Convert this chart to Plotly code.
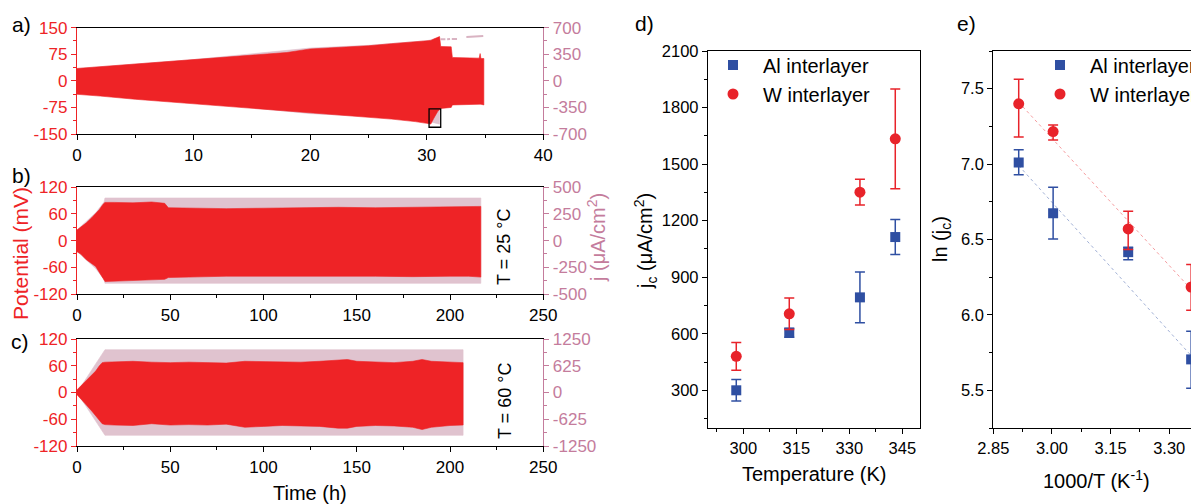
import plotly.graph_objects as go

FONT = "Liberation Sans, Arial, Helvetica, sans-serif"
RED = "#ee2326"
JCOL = "#c47c9c"
BAND = "#e0c3cf"
BLUE = "#2f4fa2"
PRED = "#e8232a"
W, H = 1199, 504
OFF = 8  # page offset of the figure inside the browser window

# ---------------- panel a : envelopes of the oscillating signals ----------------
a_t = [0, 2, 5, 8, 10, 12, 15, 18, 20, 22, 25, 27, 29, 30, 30.35, 30.6, 30.95, 31.1, 31.2, 32.1, 32.2, 34.5, 34.58, 34.65, 34.9]
a_pot_hi = [35, 40, 47, 55, 60, 64, 71, 80, 90, 93, 99, 105, 110, 113, 114, 118, 122, 125, 97, 96, 66, 64, 77, 63, 63]
a_pot_lo = [-38, -43, -52, -60, -65, -70, -78, -86, -91, -95, -103, -108, -115, -120, -122, -106, -86, -82, -78, -75, -68, -66, -67, -66, -68]
a_j_t = [0, 10, 20, 25, 30, 31.1]
a_j_val = [160, 280, 432, 468, 528, 570]
a_jseg_t = [31.2, 31.6, None, 31.75, 32.0, None, 32.15, 32.6, None, 33.4, 34.85]
a_jseg_v = [548, 548, None, 548, 550, None, 552, 552, None, 578, 590]
a_box_t = [30.2, 31.2]
a_box_pot = [-131, -79]

# ---------------- panel b : T = 25 °C ----------------
b_t = [0, 2, 5, 8, 10, 12, 14, 15, 20, 30, 40, 47, 49, 60, 80, 100, 120, 140, 160, 180, 200, 210, 216.5]
b_pot_hi = [24, 30, 40, 52, 60, 70, 82, 86, 86, 85, 87, 84, 74, 73, 72, 73, 74, 75, 74, 75, 76, 77, 77]
b_pot_lo = [-25, -30, -43, -52, -58, -70, -85, -92, -91, -89, -88, -87, -83, -82, -80, -81, -81, -80, -80, -81, -80, -80, -82]
b_j_t = [0, 5, 10, 14.5, 15, 216.5]
b_j_val = [100, 178, 262, 362, 400, 400]

# ---------------- panel c : T = 60 °C ----------------
c_t = [0, 2, 5, 8, 10, 12, 13.5, 15, 20, 30, 40, 50, 60, 70, 80, 90, 100, 110, 120, 130, 140, 145, 150, 160, 170, 180, 185, 190, 200, 207]
c_pot_hi = [6, 14, 27, 40, 48, 60, 67, 68, 69, 70, 68, 67, 68, 67, 66, 70, 69, 68, 68, 70, 72, 74, 70, 68, 67, 70, 74, 70, 68, 67]
c_pot_lo = [-5, -13, -28, -42, -50, -62, -70, -72, -73, -74, -70, -73, -72, -73, -71, -78, -76, -74, -75, -76, -80, -80, -76, -74, -75, -78, -83, -78, -74, -73]
c_j_t = [0, 15, 207]
c_j_val = [0, 1000, 1000]

# ---------------- panel d ----------------
d_T = [298, 313, 333, 343]
d_al = [300, 605, 793, 1113]
d_al_err = [57, 24, 134, 93]
d_w = [480, 706, 1351, 1634]
d_w_err = [73, 84, 68, 265]

# ---------------- panel e ----------------
e_x = [2.915, 3.003, 3.195, 3.356]
e_al = [7.011, 6.674, 6.416, 5.705]
e_al_up = [0.084, 0.172, 0.033, 0.187]
e_al_dn = [0.081, 0.170, 0.050, 0.192]
e_w = [7.40, 7.216, 6.570, 6.185]
e_w_up = [0.162, 0.044, 0.117, 0.150]
e_w_dn = [0.220, 0.057, 0.136, 0.154]
e_fit_x = [2.915, 3.356]
e_fit_al = [6.99, 5.73]
e_fit_w = [7.41, 6.17]

# tick labels
a_pot_ticks = [-150, -75, 0, 75, 150]
a_j_ticks = [-700, -350, 0, 350, 700]
b_pot_ticks = [-120, -60, 0, 60, 120]
b_j_ticks = [-500, -250, 0, 250, 500]
c_pot_ticks = [-120, -60, 0, 60, 120]
c_j_ticks = [-1250, -625, 0, 625, 1250]


def px(x):
    return (x - OFF) / W


def py(y):
    return 1 - (y - OFF) / H


def band(t, hi, lo):
    return list(t) + list(t)[::-1], list(hi) + list(lo)[::-1]


fig = go.Figure()


def add_band(t, hi, lo, xa, ya, color):
    bx, by = band(t, hi, lo)
    fig.add_trace(go.Scatter(x=bx, y=by, xaxis=xa, yaxis=ya, mode="lines", fill="toself",
                             fillcolor=color, line=dict(width=0.6, color=color),
                             showlegend=False, hoverinfo="skip"))


# current bands (base axes, drawn underneath) and potential bands (overlaying axes)
add_band(a_j_t, a_j_val, [-v for v in a_j_val], "x", "y", BAND)
fig.add_trace(go.Scatter(x=a_jseg_t, y=a_jseg_v, xaxis="x", yaxis="y", mode="lines",
                         line=dict(width=2, color="#d9b3c2"), showlegend=False, hoverinfo="skip"))
add_band(a_t, a_pot_hi, a_pot_lo, "x", "y2", RED)

add_band(b_j_t, b_j_val, [-v for v in b_j_val], "x2", "y3", BAND)
add_band(b_t, b_pot_hi, b_pot_lo, "x2", "y4", RED)

add_band(c_j_t, c_j_val, [-v for v in c_j_val], "x3", "y5", BAND)
add_band(c_t, c_pot_hi, c_pot_lo, "x3", "y6", RED)

# panel d
fig.add_trace(go.Scatter(x=d_T, y=d_al, xaxis="x4", yaxis="y7", mode="markers", name="Al interlayer",
                         marker=dict(symbol="square", size=10, color=BLUE),
                         error_y=dict(type="data", array=d_al_err, color=BLUE, thickness=1.5, width=5),
                         legend="legend"))
fig.add_trace(go.Scatter(x=d_T, y=d_w, xaxis="x4", yaxis="y7", mode="markers", name="W interlayer",
                         marker=dict(symbol="circle", size=11, color=PRED),
                         error_y=dict(type="data", array=d_w_err, color=PRED, thickness=1.5, width=5),
                         legend="legend"))

# panel e
fig.add_trace(go.Scatter(x=e_fit_x, y=e_fit_w, xaxis="x5", yaxis="y8", mode="lines",
                         line=dict(color="rgba(232,35,42,0.45)", width=1, dash="dot"),
                         showlegend=False, hoverinfo="skip"))
fig.add_trace(go.Scatter(x=e_fit_x, y=e_fit_al, xaxis="x5", yaxis="y8", mode="lines",
                         line=dict(color="rgba(47,79,162,0.45)", width=1, dash="dot"),
                         showlegend=False, hoverinfo="skip"))
fig.add_trace(go.Scatter(x=e_x, y=e_al, xaxis="x5", yaxis="y8", mode="markers", name="Al interlayer",
                         marker=dict(symbol="square", size=10, color=BLUE),
                         error_y=dict(type="data", symmetric=False, array=e_al_up, arrayminus=e_al_dn,
                                      color=BLUE, thickness=1.5, width=5),
                         legend="legend2"))
fig.add_trace(go.Scatter(x=e_x, y=e_w, xaxis="x5", yaxis="y8", mode="markers", name="W interlayer",
                         marker=dict(symbol="circle", size=11, color=PRED),
                         error_y=dict(type="data", symmetric=False, array=e_w_up, arrayminus=e_w_dn,
                                      color=PRED, thickness=1.5, width=5),
                         legend="legend2"))

LW = 1.3
TICKF = dict(family=FONT, size=17, color="black")


def time_axis(dom, rng, dtick, anchor):
    return dict(domain=dom, range=rng, anchor=anchor, showline=True, linecolor="black", linewidth=LW,
                mirror=True, ticks="outside", ticklen=5, tickwidth=1.2, tickcolor="black",
                tickfont=TICKF, tick0=0, dtick=dtick, automargin=False,
                minor=dict(dtick=dtick / 2, tick0=0, ticks="outside", ticklen=3, tickwidth=1.2, tickcolor="black"),
                showgrid=False, zeroline=False)


def lab(v):
    return ["%g" % x for x in v]


def pot_axis(rng, ticks, overlay, anchor):
    step = ticks[1] - ticks[0]
    return dict(range=rng, overlaying=overlay, side="left", anchor=anchor, showline=True, linecolor=RED,
                linewidth=LW, ticks="outside", ticklen=5, tickwidth=1.2, tickcolor=RED, automargin=False,
                tickfont=dict(family=FONT, size=17, color=RED), tickmode="array", tickvals=ticks,
                ticktext=lab(ticks),
                minor=dict(tick0=0, dtick=step / 2, ticks="outside", ticklen=3, tickwidth=1.2, tickcolor=RED),
                showgrid=False, zeroline=False)


def j_axis(dom, rng, ticks, anchor):
    step = ticks[1] - ticks[0]
    return dict(domain=dom, range=rng, side="right", anchor=anchor, showline=True, linecolor=JCOL,
                linewidth=LW, ticks="outside", ticklen=5, tickwidth=1.2, tickcolor=JCOL, automargin=False,
                tickfont=dict(family=FONT, size=17, color=JCOL), tickmode="array", tickvals=ticks,
                ticktext=lab(ticks),
                minor=dict(tick0=0, dtick=step / 2, ticks="outside", ticklen=3, tickwidth=1.2, tickcolor=JCOL),
                showgrid=False, zeroline=False)


def plain_axis(**kw):
    base = dict(showline=True, linecolor="black", linewidth=LW, ticks="outside", ticklen=5, tickwidth=1.2,
                tickcolor="black", tickfont=dict(family=FONT, size=16.5, color="black"), automargin=False,
                showgrid=False, zeroline=False)
    base.update(kw)
    return base


def minor(t0, dt):
    return dict(tick0=t0, dtick=dt, ticks="outside", ticklen=3, tickwidth=1.2, tickcolor="black")


XL, XR = 77, 543.3
xdom = [px(XL), px(XR)]
dom_a = [py(134), py(27.7)]
dom_b = [py(294), py(187.3)]
dom_c = [py(446), py(339)]

D_DOM_X = [px(708), px(920)]
E_LEFT = 993.3
E_DOM_X = [px(E_LEFT), 1.0]
DE_DOM_Y = [py(428), py(51)]

e_xmax = 2.85 + (W + OFF - E_LEFT) / 391.0

fig.update_layout(
    width=W, height=H, margin=dict(l=0, r=0, t=0, b=0, autoexpand=False),
    paper_bgcolor="white", plot_bgcolor="white",
    font=dict(family=FONT, size=17, color="black"),
    xaxis=time_axis(xdom, [0, 40], 10, "y"),
    yaxis=j_axis(dom_a, [-700, 700], a_j_ticks, "x"),
    yaxis2=pot_axis([-150, 150], a_pot_ticks, "y", "x"),
    xaxis2=time_axis(xdom, [0, 250], 50, "y3"),
    yaxis3=j_axis(dom_b, [-500, 500], b_j_ticks, "x2"),
    yaxis4=pot_axis([-120, 120], b_pot_ticks, "y3", "x2"),
    xaxis3=time_axis(xdom, [0, 250], 50, "y5"),
    yaxis5=j_axis(dom_c, [-1250, 1250], c_j_ticks, "x3"),
    yaxis6=pot_axis([-120, 120], c_pot_ticks, "y5", "x3"),
    xaxis4=plain_axis(domain=D_DOM_X, range=[290, 350], anchor="y7", mirror=True, tick0=300, dtick=15,
                      minor=minor(300, 7.5)),
    yaxis7=plain_axis(domain=DE_DOM_Y, range=[100, 2100], anchor="x4", mirror=True, tick0=300, dtick=300,
                      minor=minor(300, 150)),
    xaxis5=plain_axis(domain=E_DOM_X, range=[2.85, e_xmax], anchor="y8", mirror=True, tick0=2.85,
                      dtick=0.15, tickformat=".2f", minor=minor(2.85, 0.075)),
    yaxis8=plain_axis(domain=DE_DOM_Y, range=[5.25, 7.75], anchor="x5", mirror=True, tick0=5.5,
                      dtick=0.5, tickformat=".1f", minor=minor(5.5, 0.25)),
    legend=dict(x=px(703), y=py(45.5), xanchor="left", yanchor="top", bgcolor="rgba(0,0,0,0)",
                font=dict(family=FONT, size=20), itemwidth=50, tracegroupgap=0),
    legend2=dict(x=px(1030), y=py(45.5), xanchor="left", yanchor="top", bgcolor="rgba(0,0,0,0)",
                 font=dict(family=FONT, size=20), itemwidth=50, tracegroupgap=0),
    showlegend=True,
)

fig.add_shape(type="rect", xref="x", yref="y2", x0=a_box_t[0], x1=a_box_t[1], y0=a_box_pot[0],
              y1=a_box_pot[1], line=dict(color="black", width=1.3), fillcolor="rgba(0,0,0,0)")


def note(text, x, y, size=20, color="black", angle=0):
    fig.add_annotation(text=text, x=px(x), y=py(y), xref="paper", yref="paper", showarrow=False,
                       xanchor="center", yanchor="middle", textangle=angle,
                       font=dict(family=FONT, size=size, color=color))


note("a)", 21, 24, 21)
note("b)", 21, 176, 21)
note("c)", 20, 341, 21)
note("d)", 644, 23, 21)
note("e)", 966, 23, 21)
note("Potential (mV)", 20, 254, 21, RED, -90)
note("j (μA/cm<sup>2</sup>)", 597, 238, 20, JCOL, -90)
note("T = 25 °C", 504, 247, 18, "black", -90)
note("T = 60 °C", 505, 401, 18, "black", -90)
note("Time (h)", 310, 493, 20)
note("Temperature (K)", 814, 474, 20)
note("1000/T (K<sup>-1</sup>)", 1096, 479, 20)
note("j<sub>c</sub> (μA/cm<sup>2</sup>)", 645, 241, 20, "black", -90)
note("ln (j<sub>c</sub>)", 942, 239, 20, "black", -90)

fig.write_html("out.html")
